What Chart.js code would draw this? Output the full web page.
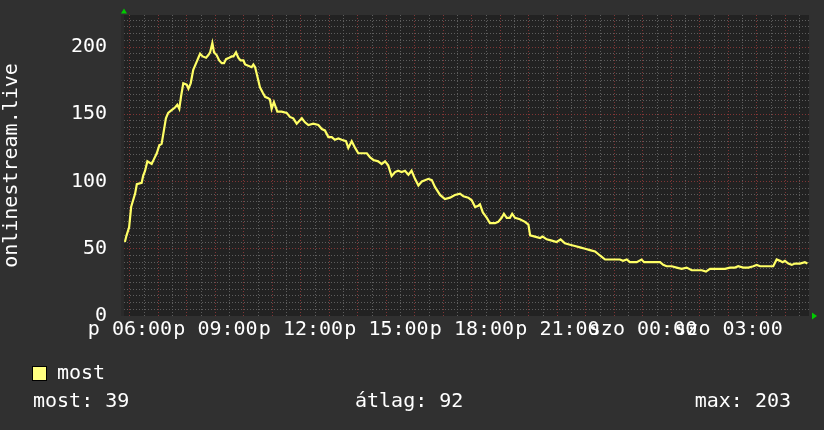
<!DOCTYPE html>
<html>
<head>
<meta charset="utf-8">
<script src="https://cdn.jsdelivr.net/npm/chart.js@4"></script>
<style>
html,body{margin:0;padding:0;background:#303030;}
canvas{display:block;}
</style>
</head>
<body>
<canvas id="c" width="824" height="430"></canvas>
<script>
// hours since 06:00 (Friday)
const hours = [-0.18,-0.12,-0.03,0.04,0.18,0.24,0.41,0.46,0.53,0.61,0.76,0.85,0.94,1.03,1.11,1.19,1.26,1.34,1.46,1.58,1.66,1.73,1.79,1.87,1.99,2.05,2.13,2.22,2.32,2.40,2.46,2.55,2.67,2.75,2.81,2.89,2.95,3.04,3.13,3.22,3.30,3.37,3.48,3.57,3.63,3.72,3.80,3.88,3.98,4.04,4.15,4.27,4.33,4.39,4.47,4.56,4.66,4.74,4.85,4.91,4.97,5.05,5.17,5.32,5.50,5.61,5.73,5.85,6.03,6.14,6.26,6.43,6.61,6.73,6.84,6.96,7.08,7.19,7.31,7.43,7.58,7.66,7.78,7.90,8.01,8.13,8.31,8.42,8.54,8.71,8.83,8.95,9.06,9.18,9.30,9.41,9.53,9.65,9.77,9.88,10.00,10.12,10.24,10.35,10.47,10.59,10.70,10.88,11.05,11.23,11.40,11.58,11.70,11.87,11.99,12.11,12.22,12.28,12.38,12.52,12.63,12.81,12.92,13.04,13.12,13.22,13.33,13.41,13.51,13.68,13.86,13.98,14.04,14.21,14.39,14.48,14.62,14.80,14.97,15.11,15.26,15.44,15.61,15.79,15.97,16.14,16.32,16.49,16.67,16.84,17.02,17.19,17.30,17.43,17.54,17.78,17.95,18.04,18.25,18.48,18.60,18.71,18.83,19.01,19.18,19.36,19.53,19.71,19.88,20.06,20.21,20.35,20.53,20.70,20.88,21.05,21.23,21.34,21.52,21.70,21.87,21.99,22.11,22.28,22.46,22.57,22.69,22.81,22.90,22.98,23.10,23.22,23.33,23.51,23.68,23.77];
const viewers = [55,60,66,81,91,98,99,104,108,115,113,117,121,127,128,138,147,151,153,155,157,154,163,173,172,169,173,183,188,192,195,193,192,194,196,203,196,194,190,188,188,191,192,193,193,196,192,190,190,187,186,185,187,185,178,170,166,163,162,161,154,159,152,152,151,148,147,143,147,144,142,143,142,139,138,133,133,131,132,131,130,125,130,125,121,121,121,118,116,115,113,115,112,104,107,108,107,108,105,108,102,97,100,101,102,101,96,90,87,88,90,91,89,88,86,81,82,83,77,73,69,69,70,73,76,73,73,76,73,72,70,68,60,59,58,59,57,56,55,57,54,53,52,51,50,49,48,45,42,42,42,42,41,42,40,40,42,40,40,40,40,38,37,37,36,35,36,34,34,34,33,35,35,35,35,36,36,37,36,36,37,38,37,37,37,37,42,41,40,41,39,38,39,39,40,39];
const xTickLabels = ["p 06:00","p 09:00","p 12:00","p 15:00","p 18:00","p 21:00","szo 00:00","szo 03:00"];
const yTickLabels = ["0","50","100","150","200"];
const seriesName = "most";
const statNames = ["most","átlag","max"];
const statValues = [39,92,203];
const axisTitle = "onlinestream.live";

const FONT = "'DejaVu Sans Mono', monospace";
const MAJOR = 'rgba(140,55,55,0.9)';
const MINOR = 'rgba(100,100,100,0.9)';

const decor = {
  id: 'decor',
  beforeDraw(chart) {
    const {ctx, chartArea: a} = chart;
    ctx.save();
    ctx.fillStyle = '#303030';
    ctx.fillRect(0, 0, chart.width, chart.height);
    ctx.fillStyle = '#2a2a2a';
    ctx.fillRect(a.left - 3, a.top, 3, a.bottom - a.top);
    ctx.fillStyle = '#222222';
    ctx.fillRect(a.left, a.top, a.right - a.left, a.bottom - a.top);
    ctx.restore();
  },
  afterDraw(chart) {
    const {ctx, chartArea: a} = chart;
    ctx.save();
    // arrows
    ctx.fillStyle = '#00cc00';
    ctx.beginPath();
    ctx.moveTo(a.left - 3, a.top - 1.5); ctx.lineTo(a.left + 3, a.top - 1.5); ctx.lineTo(a.left, a.top - 6.5); ctx.closePath(); ctx.fill();
    ctx.beginPath();
    ctx.moveTo(a.right + 3, a.bottom - 3.5); ctx.lineTo(a.right + 3, a.bottom + 3.5); ctx.lineTo(a.right + 8, a.bottom); ctx.closePath(); ctx.fill();
    // axis title
    ctx.fillStyle = '#ffffff';
    ctx.font = '20px ' + FONT;
    ctx.translate(12, (a.top + a.bottom) / 2);
    ctx.rotate(-Math.PI / 2);
    ctx.textAlign = 'center';
    ctx.textBaseline = 'middle';
    ctx.fillText(axisTitle, 0, 0);
    ctx.restore();
    // legend
    ctx.save();
    ctx.fillStyle = '#ffff80';
    ctx.fillRect(32, 366, 15, 15);
    ctx.strokeStyle = '#000000';
    ctx.lineWidth = 1;
    ctx.strokeRect(32.5, 366.5, 14, 14);
    ctx.fillStyle = '#ffffff';
    ctx.font = '20px ' + FONT;
    ctx.textBaseline = 'middle';
    ctx.textAlign = 'left';
    ctx.fillText(seriesName, 57, 374);
    ctx.fillText(statNames[0] + ': ' + statValues[0], 33, 402);
    ctx.fillText(statNames[1] + ': ' + statValues[1], 355, 402);
    ctx.textAlign = 'right';
    ctx.fillText(statNames[2] + ': ' + statValues[2], 791, 402);
    ctx.restore();
  }
};

const xGridTicks = [];
for (let h = 0; h <= 23.5; h += 0.5) xGridTicks.push(h);
const yGridTicks = [];
for (let v = 0; v <= 220; v += 5) yGridTicks.push(v);

new Chart(document.getElementById('c'), {
  type: 'line',
  data: {
    datasets: [{
      label: seriesName,
      data: hours.map((h, i) => ({x: h, y: viewers[i]})),
      borderColor: '#ffff66',
      borderWidth: 2.2,
      pointRadius: 0,
      tension: 0,
      fill: false
    }]
  },
  options: {
    responsive: false,
    devicePixelRatio: 1,
    animation: false,
    layout: {padding: {top: 15, right: 15, left: 0, bottom: 0}},
    plugins: {legend: {display: false}, tooltip: {enabled: false}},
    scales: {
      x: {
        type: 'linear',
        min: -0.21,
        max: 23.825,
        afterBuildTicks(s) { s.ticks = xGridTicks.map(v => ({value: v})); },
        afterFit(s) { s.height = 114; s.paddingLeft = 0; s.paddingRight = 0; },
        ticks: {
          autoSkip: false, maxRotation: 0, minRotation: 0,
          color: '#ffffff',
          font: {family: FONT, size: 20},
          padding: 2,
          callback(v) { return (v % 3 === 0) ? xTickLabels[v / 3] : ''; }
        },
        grid: {
          drawTicks: false,
          lineWidth: 1,
          color(c) { return (c.tick && c.tick.value % 1 === 0) ? MAJOR : MINOR; }
        },
        border: {display: false, dash: [1, 2]}
      },
      y: {
        min: 0,
        max: 223.8,
        afterBuildTicks(s) { s.ticks = yGridTicks.map(v => ({value: v})); },
        afterFit(s) { s.width = 124; s.paddingTop = 0; s.paddingBottom = 0; },
        ticks: {
          autoSkip: false,
          color: '#ffffff',
          font: {family: FONT, size: 20},
          padding: 17,
          callback(v) { return (v % 50 === 0) ? yTickLabels[v / 50] : ''; }
        },
        grid: {
          drawTicks: false,
          lineWidth: 1,
          color(c) {
            if (!c.tick || c.tick.value === 0) return 'rgba(0,0,0,0)';
            return c.tick.value % 50 === 0 ? MAJOR : MINOR;
          }
        },
        border: {display: false, dash: [1, 2]}
      }
    }
  },
  plugins: [decor]
});
</script>
</body>
</html>
